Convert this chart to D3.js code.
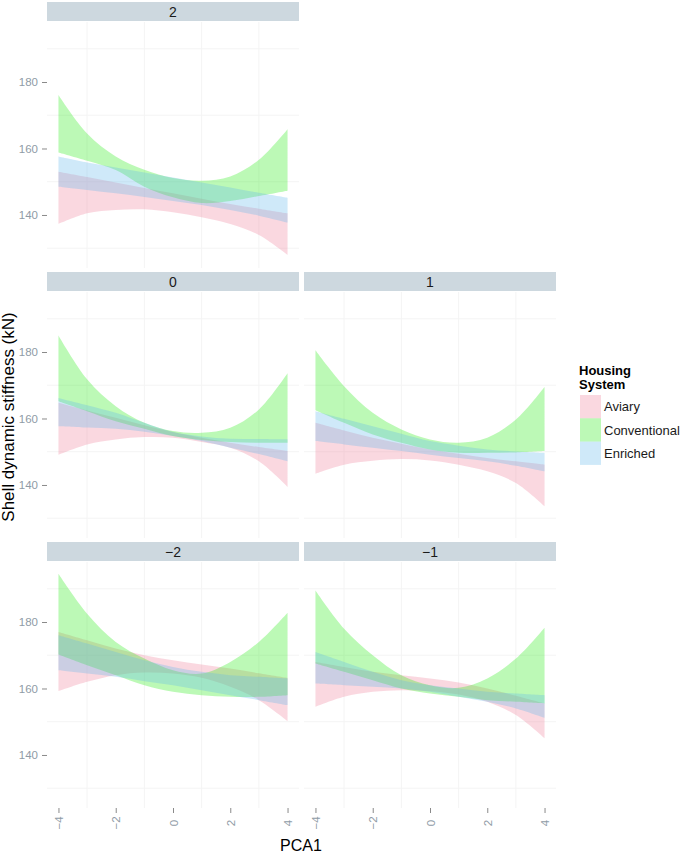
<!DOCTYPE html>
<html><head><meta charset="utf-8">
<script src="https://cdn.jsdelivr.net/npm/d3@7"></script>
<style>body{margin:0;background:#fff} text{font-family:"Liberation Sans",Arial,sans-serif}</style>
</head><body><svg id="c" width="689" height="853"></svg>
<script>
// ---------- data ----------
const xs = [-4, -3, -2, -1, 0, 1, 2, 3, 4];
const series = ["Aviary", "Conventional", "Enriched"];
const facetLabels = ["2", "0", "1", "\u22122", "\u22121"];
const yTicks = [140, 160, 180];
const xTicks = [-4, -2, 0, 2, 4];
const yMinor = [130, 150, 170, 190];
const xMinor = [-3, -1, 1, 3];

// one row per facet, in facetLabels order
const aviaryLower = [
  [137.3, 140.5, 141.5, 141.7, 140.8, 139.3, 137.3, 134.0, 128.0],
  [149.1, 152.2, 153.7, 154.4, 154.2, 152.9, 151.2, 147.1, 139.4],
  [143.4, 146.1, 147.3, 147.8, 147.4, 146.1, 144.1, 140.6, 133.6],
  [159.2, 162.0, 164.0, 164.8, 164.5, 163.2, 160.5, 156.5, 150.2],
  [154.5, 157.5, 159.0, 159.5, 159.2, 158.2, 156.0, 152.0, 145.0]
];
const aviaryUpper = [
  [153.0, 151.4, 149.8, 148.1, 146.5, 144.9, 143.3, 141.9, 140.5],
  [164.7, 162.4, 160.2, 158.0, 155.9, 154.2, 152.7, 151.4, 150.2],
  [158.7, 156.4, 154.2, 152.4, 150.7, 149.4, 148.1, 147.1, 146.1],
  [177.0, 174.5, 172.0, 170.0, 168.5, 167.2, 166.0, 164.6, 163.2],
  [168.0, 166.5, 165.0, 164.0, 163.0, 161.8, 160.0, 157.8, 155.5]
];
const conventionalLower = [
  [158.8, 156.3, 153.5, 148.5, 145.3, 143.6, 144.2, 145.7, 147.3],
  [165.2, 162.2, 159.2, 156.9, 154.7, 153.5, 152.9, 152.7, 152.7],
  [162.5, 158.7, 155.2, 152.7, 150.7, 149.7, 149.7, 149.8, 150.2],
  [170.2, 167.0, 164.0, 161.0, 159.0, 158.0, 157.5, 157.5, 158.0],
  [167.5, 165.0, 162.5, 160.0, 158.5, 157.5, 156.5, 156.0, 155.5]
];
const conventionalUpper = [
  [176.1, 164.5, 157.6, 153.6, 151.1, 150.3, 151.6, 156.6, 165.8],
  [185.0, 171.8, 163.7, 158.7, 156.2, 155.7, 157.2, 162.7, 173.6],
  [180.5, 169.7, 161.7, 156.7, 153.7, 152.7, 154.2, 159.7, 169.5],
  [194.5, 182.5, 174.0, 169.0, 165.5, 164.5, 168.0, 174.0, 182.8],
  [189.5, 178.0, 170.0, 164.0, 161.0, 160.2, 163.0, 169.0, 178.3]
];
const enrichedLower = [
  [148.5, 147.5, 146.5, 145.4, 144.2, 143.0, 141.5, 139.8, 137.7],
  [157.7, 157.3, 156.9, 156.0, 154.7, 153.2, 151.2, 149.3, 147.1],
  [153.2, 152.2, 151.2, 150.2, 149.1, 148.1, 147.1, 145.8, 144.1],
  [165.5, 164.5, 163.5, 162.2, 161.0, 159.5, 158.0, 156.5, 155.0],
  [161.5, 161.0, 160.5, 160.0, 159.0, 157.5, 156.0, 154.0, 151.2]
];
const enrichedUpper = [
  [157.6, 155.8, 154.3, 152.8, 151.3, 149.8, 148.3, 146.7, 145.2],
  [166.2, 164.0, 161.7, 158.7, 155.9, 154.6, 153.9, 153.8, 153.7],
  [162.2, 159.9, 157.7, 155.4, 153.2, 151.8, 150.7, 150.1, 149.7],
  [176.0, 173.5, 171.0, 168.5, 166.5, 165.0, 164.0, 163.5, 163.0],
  [171.0, 168.0, 165.0, 162.5, 161.0, 160.0, 159.0, 158.5, 158.0]
];

// ---------- layout / style ----------
const colors = ["rgb(240,128,155)", "rgb(40,235,20)", "rgb(100,185,235)"];
const fillOpacity = 0.31;
const lowers = [aviaryLower, conventionalLower, enrichedLower];
const uppers = [aviaryUpper, conventionalUpper, enrichedUpper];
const facetPos = [[0, 0], [1, 0], [1, 1], [2, 0], [2, 1]];
const colX = [47, 304], rowY = [2, 272, 542];
const stripH = 20, panelW = 252, panelH = 246;

const svg = d3.select("#c");
const x = d3.scaleLinear().domain([-4.4, 4.4]).range([0, panelW]);
const y = d3.scaleLinear().domain([124.05, 198.05]).range([panelH, 0]);

facetLabels.forEach((lab, fi) => {
  const [r, c] = facetPos[fi];
  const g = svg.append("g").attr("transform", `translate(${colX[c]},${rowY[r] + stripH})`);
  // strip
  g.append("rect").attr("x", 0).attr("y", -stripH).attr("width", panelW).attr("height", stripH - 1)
    .attr("fill", "#cdd8df");
  g.append("text").attr("x", panelW / 2).attr("y", -stripH / 2).attr("dy", "0.36em")
    .attr("text-anchor", "middle").attr("font-size", 14).attr("fill", "#1a1a1a").text(lab);
  // minor grid
  g.selectAll(".hg").data(yMinor).enter().append("line")
    .attr("x1", 0).attr("x2", panelW).attr("y1", d => y(d)).attr("y2", d => y(d))
    .attr("stroke", "#f4f4f4").attr("stroke-width", 1);
  g.selectAll(".vg").data(xMinor).enter().append("line")
    .attr("y1", 0).attr("y2", panelH).attr("x1", d => x(d)).attr("x2", d => x(d))
    .attr("stroke", "#f4f4f4").attr("stroke-width", 1);
  // ribbons
  series.forEach((s, si) => {
    const pts = xs.map((xv, i) => ({ x: xv, lo: lowers[si][fi][i], hi: uppers[si][fi][i] }));
    const area = d3.area().curve(d3.curveCatmullRom.alpha(0.5))
      .x(d => x(d.x)).y0(d => y(d.lo)).y1(d => y(d.hi));
    g.append("path").datum(pts).attr("d", area)
      .attr("fill", colors[si]).attr("fill-opacity", fillOpacity);
  });
  // y axis
  if (c === 0) {
    const ay = g.append("g").call(d3.axisLeft(y).tickValues(yTicks).tickSize(5).tickPadding(4));
    ay.select(".domain").remove();
    ay.selectAll("line").attr("stroke", "#8a8a8a");
    ay.selectAll("text").attr("font-size", 11.5).attr("fill", "#8f9ba6")
      .style("font-family", '"Liberation Sans",Arial,sans-serif');
  }
  // x axis
  if (r === 2) {
    const ax = g.append("g").attr("transform", `translate(0,${panelH})`)
      .call(d3.axisBottom(x).tickValues(xTicks).tickSize(5));
    ax.select(".domain").remove();
    ax.selectAll("line").attr("stroke", "#8a8a8a");
    ax.selectAll("text").attr("y", 0).attr("dy", "0.35em")
      .attr("transform", "translate(0,15) rotate(-90)")
      .style("text-anchor", "middle").attr("font-size", 11.5).attr("fill", "#8f9ba6")
      .style("font-family", '"Liberation Sans",Arial,sans-serif');
  }
});

// axis titles
svg.append("text").attr("transform", "translate(14,417) rotate(-90)")
  .attr("text-anchor", "middle").attr("font-size", 17).attr("fill", "#000")
  .text("Shell dynamic stiffness (kN)");
svg.append("text").attr("x", 301).attr("y", 851).attr("text-anchor", "middle")
  .attr("font-size", 16).attr("fill", "#000").text("PCA1");

// legend
const lg = svg.append("g");
lg.append("text").attr("x", 579).attr("y", 375).attr("font-size", 13).attr("font-weight", "bold").text("Housing");
lg.append("text").attr("x", 579).attr("y", 389).attr("font-size", 13).attr("font-weight", "bold").text("System");
series.forEach((s, si) => {
  const ky = 395 + si * 23.3;
  lg.append("rect").attr("x", 580).attr("y", ky).attr("width", 21).attr("height", 23.3)
    .attr("fill", colors[si]).attr("fill-opacity", fillOpacity);
  lg.append("text").attr("x", 604).attr("y", ky + 11.7).attr("dy", "0.36em")
    .attr("font-size", 13).attr("fill", "#1a1a1a").text(s);
});
</script></body></html>
